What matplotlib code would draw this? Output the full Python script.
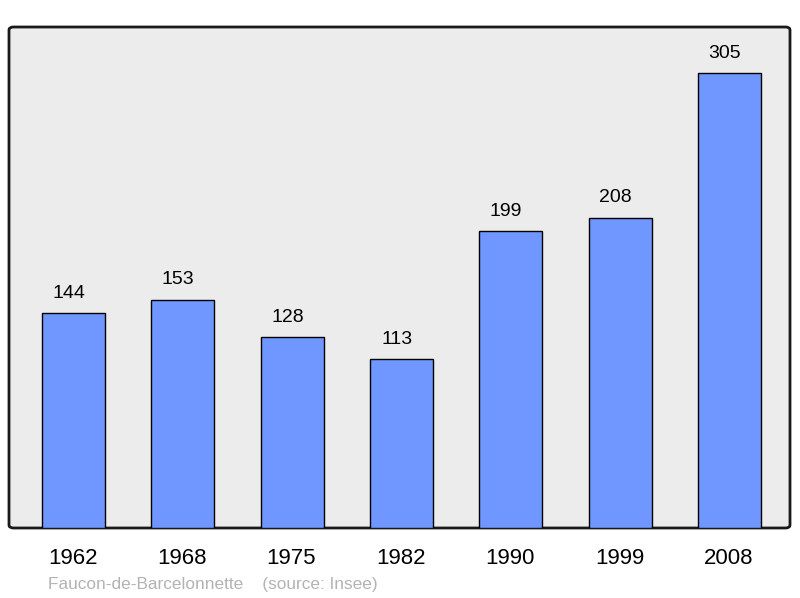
import matplotlib
matplotlib.use("Agg")
import matplotlib.pyplot as plt
from matplotlib.patches import FancyBboxPatch

years = ["1962", "1968", "1975", "1982", "1990", "1999", "2008"]
population = [144, 153, 128, 113, 199, 208, 305]
place = "Faucon-de-Barcelonnette"
source = "(source: Insee)"

plt.rcParams['font.family'] = ['Liberation Sans', 'DejaVu Sans']

fig = plt.figure(figsize=(8, 5.98), dpi=100)
ax = fig.add_axes([9/800, 70/598, 781/800, 501/598])
ax.set_facecolor('none')
x = list(range(len(years)))
ax.bar(x, population, width=0.576, color='#7096ff', edgecolor='black', linewidth=1.0, zorder=2)
ax.set_xlim(-0.59, 6.553)
ax.set_ylim(0, 335.8)
for s in ax.spines.values():
    s.set_visible(False)
ax.set_xticks([])
ax.set_yticks([])

frame = FancyBboxPatch((0, 0), 1, 1, boxstyle="round,pad=0,rounding_size=0.006",
                       transform=ax.transAxes, facecolor='#ececec', edgecolor='#1a1a1a',
                       linewidth=2, zorder=0, clip_on=False)
ax.add_patch(frame)

for xi, v in zip(x, population):
    ax.annotate(str(v), (xi, v), xytext=(-3.4, 11.0), textcoords='offset points',
                ha='center', va='baseline', fontsize=14, color='black')

for xi, yr in zip(x, years):
    ax.annotate(yr, (xi, 0), xycoords=ax.get_xaxis_transform(), xytext=(-0.5, -26.0),
                textcoords='offset points', ha='center', va='baseline', fontsize=16, color='black')

fig.text(48/800, 1 - 589/598, place + "    " + source, ha='left', va='baseline',
         fontsize=12.4, color='#b3b3b3')

fig.savefig("out.png", dpi=100)
